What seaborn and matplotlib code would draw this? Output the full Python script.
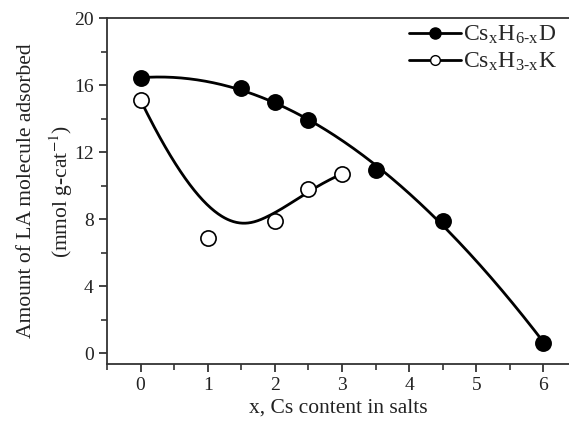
import numpy as np
import pandas as pd
import matplotlib
matplotlib.use("Agg")
import matplotlib.pyplot as plt
import seaborn as sns
from matplotlib.ticker import MultipleLocator
from matplotlib.lines import Line2D

# Data
x_d = [0, 1.5, 2, 2.5, 3.5, 4.5, 6]
y_d = [16.4, 15.8, 15.0, 13.9, 10.9, 7.9, 0.6]
x_k = [0, 1, 2, 2.5, 3]
y_k = [15.1, 6.9, 7.9, 9.8, 10.7]
label_d = "Cs$_\\mathregular{x}$H$_\\mathregular{6\\text{-}x}$D"
label_k = "Cs$_\\mathregular{x}$H$_\\mathregular{3\\text{-}x}$K"
x_ticks = [0, 1, 2, 3, 4, 5, 6]
y_ticks = [0, 4, 8, 12, 16, 20]


def bspline(x, y, n=400, k=3):
    """Clamped B-spline using the data points as control points."""
    P = np.column_stack([x, y]).astype(float)
    m = len(P)
    k = min(k, m - 1)
    inner = np.linspace(0, 1, m - k + 1)[1:-1]
    t = np.concatenate([np.zeros(k + 1), inner, np.ones(k + 1)])
    us = np.linspace(0, 1, n)
    out = []
    for u in us:
        if u >= 1:
            out.append(P[-1]); continue
        j = np.searchsorted(t, u, side='right') - 1
        d = [P[j - k + i].copy() for i in range(k + 1)]
        for r in range(1, k + 1):
            for i in range(k, r - 1, -1):
                a = (u - t[j - k + i]) / (t[j + 1 + i - r] - t[j - k + i])
                d[i] = (1 - a) * d[i - 1] + a * d[i]
        out.append(d[k])
    out = np.array(out)
    return out[:, 0], out[:, 1]


xs_d = np.linspace(min(x_d), max(x_d), 300)
ys_d = np.polyval(np.polyfit(x_d, y_d, 3), xs_d)
xs_k, ys_k = bspline(x_k, y_k)

sns.set_theme(style="ticks")
plt.rcParams['font.family'] = ['Liberation Serif', 'DejaVu Serif']
plt.rcParams['mathtext.fontset'] = 'stix'

fig = plt.figure(figsize=(5.69, 4.29), dpi=100)
ax = fig.add_axes([0.188, 0.1515, 0.812, 0.8065])

sns.lineplot(x=xs_d, y=ys_d, ax=ax, color='black', lw=2, sort=False)
sns.lineplot(x=xs_k, y=ys_k, ax=ax, color='black', lw=2, sort=False)
sns.scatterplot(x=x_d, y=y_d, ax=ax, color='black', s=120, edgecolor='black', linewidth=1.2, zorder=5)
sns.scatterplot(x=x_k, y=y_k, ax=ax, color='white', s=120, edgecolor='black', linewidth=1.2, zorder=5)

ax.set_xlim(-0.5, 6.38)
ax.set_ylim(-0.65, 20)
ax.set_xticks(x_ticks)
ax.set_yticks(y_ticks)
ax.xaxis.set_minor_locator(MultipleLocator(0.5))
ax.yaxis.set_minor_locator(MultipleLocator(2))
ax.tick_params(which='both', direction='out', width=1.2, color='#333333')
ax.tick_params(which='major', length=6, labelsize=14, colors='#222222')
ax.tick_params(which='minor', length=4)
for s in ['left', 'bottom', 'top']:
    ax.spines[s].set_linewidth(1.3)
    ax.spines[s].set_color('#333333')
ax.spines['right'].set_visible(False)

ax.set_xlabel("x, Cs content in salts", fontsize=15.5, color='#222222', labelpad=3)
ax.set_ylabel("Amount of LA molecule adsorbed\n(mmol g-cat$^{-1}$)", fontsize=15.5,
              color='#222222', labelpad=-1, linespacing=1.6)

handles = [
    Line2D([0], [0], color='black', lw=2, marker='o', markersize=8,
           markerfacecolor='black', markeredgecolor='black'),
    Line2D([0], [0], color='black', lw=2, marker='o', markersize=7,
           markerfacecolor='white', markeredgecolor='black'),
]
ax.legend(handles, [label_d, label_k], loc='upper right', frameon=False,
          fontsize=17, handlelength=2.2, handletextpad=0.1, borderaxespad=0.0,
          labelspacing=0.2, bbox_to_anchor=(0.995, 1.01))

fig.savefig("out.png", dpi=100)
